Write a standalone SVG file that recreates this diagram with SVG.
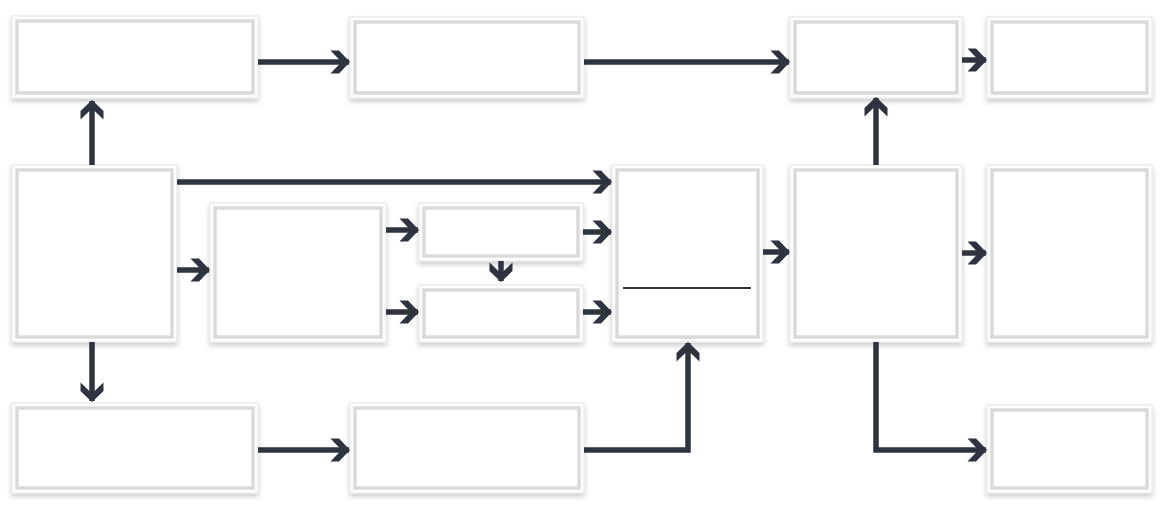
<svg xmlns="http://www.w3.org/2000/svg" width="1164" height="512" viewBox="0 0 1164 512">
<style>
.box .o{fill:#ffffff;stroke:#ebebeb;stroke-width:1.5;filter:url(#sh)}
.box .i{fill:#ffffff;stroke:#dadada;stroke-width:3.5}
.conn path{fill:none;stroke:#2d3440;stroke-width:5.5;marker-end:url(#ah)}
.div{stroke:#2d3440;stroke-width:2}
</style>
<defs>
<filter id="sh" x="-10%" y="-10%" width="120%" height="130%">
<feDropShadow dx="0" dy="3" stdDeviation="2.5" flood-color="#000000" flood-opacity="0.2"/>
</filter>
<marker id="ah" markerUnits="userSpaceOnUse" viewBox="-20 -13 23 26" markerWidth="23" markerHeight="26" refX="0" refY="0" orient="auto">
<polygon points="1,0 -10,-11.5 -18.5,-11.5 -7.5,0 -18.5,11.5 -10,11.5" fill="#2d3440"/>
</marker>
</defs>
<rect width="1164" height="512" fill="#ffffff"/>
<g id="nodeA" class="box"><rect class="o" x="12" y="16" width="246" height="82"/><rect class="i" x="17" y="21" width="236" height="72"/></g>
<g id="nodeB" class="box"><rect class="o" x="350" y="17" width="234" height="81"/><rect class="i" x="355" y="22" width="224" height="71"/></g>
<g id="nodeC" class="box"><rect class="o" x="790" y="17" width="172" height="81"/><rect class="i" x="795" y="22" width="162" height="71"/></g>
<g id="nodeD" class="box"><rect class="o" x="987" y="17" width="165" height="81"/><rect class="i" x="992" y="22" width="155" height="71"/></g>
<g id="nodeE" class="box"><rect class="o" x="12" y="165" width="165" height="177"/><rect class="i" x="17" y="170" width="155" height="167"/></g>
<g id="nodeF" class="box"><rect class="o" x="210" y="203" width="176" height="139"/><rect class="i" x="215" y="208" width="166" height="129"/></g>
<g id="nodeG" class="box"><rect class="o" x="419" y="203" width="164" height="58"/><rect class="i" x="424" y="208" width="154" height="48"/></g>
<g id="nodeH" class="box"><rect class="o" x="419" y="285" width="164" height="57"/><rect class="i" x="424" y="290" width="154" height="47"/></g>
<g id="nodeI" class="box"><rect class="o" x="612" y="165" width="151" height="177"/><rect class="i" x="617" y="170" width="141" height="167"/><line class="div" x1="623" y1="288" x2="751" y2="288"/></g>
<g id="nodeJ" class="box"><rect class="o" x="790" y="165" width="172" height="177"/><rect class="i" x="795" y="170" width="162" height="167"/></g>
<g id="nodeK" class="box"><rect class="o" x="987" y="165" width="165" height="177"/><rect class="i" x="992" y="170" width="155" height="167"/></g>
<g id="nodeL" class="box"><rect class="o" x="12" y="403" width="246" height="90"/><rect class="i" x="17" y="408" width="236" height="80"/></g>
<g id="nodeM" class="box"><rect class="o" x="350" y="403" width="234" height="90"/><rect class="i" x="355" y="408" width="224" height="80"/></g>
<g id="nodeN" class="box"><rect class="o" x="987" y="405" width="165" height="88"/><rect class="i" x="992" y="410" width="155" height="78"/></g>
<g id="connectors" class="conn">
<path d="M258,62 H349"/>
<path d="M584,62 H789"/>
<path d="M962,60 H986"/>
<path d="M92,165 V101"/>
<path d="M177,182 H611"/>
<path d="M177,270 H209"/>
<path d="M386,230 H418"/>
<path d="M386,312 H418"/>
<path d="M501,261 V281"/>
<path d="M583,232 H611"/>
<path d="M583,312 H611"/>
<path d="M763,252 H789"/>
<path d="M876,165 V98"/>
<path d="M962,253 H986"/>
<path d="M92,342 V401"/>
<path d="M258,450 H349"/>
<path d="M584,450 H688 V343"/>
<path d="M876,342 V450 H986"/>
</g>
</svg>
